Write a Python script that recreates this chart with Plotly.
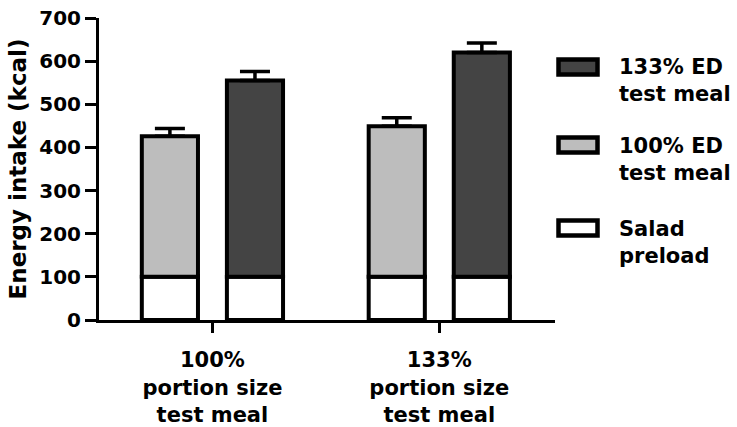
import plotly.graph_objects as go

groups = ["100%<br>portion size<br>test meal", "133%<br>portion size<br>test meal"]
salad = [100, 100]
meal_100ed = [326, 349]
meal_100ed_sem = [18, 20]
meal_133ed = [455, 520]
meal_133ed_sem = [21, 22]
legend_labels = ["133% ED<br>test meal", "100% ED<br>test meal", "Salad<br>preload"]

LIGHT = "#bdbdbd"
DARK = "#444444"
FONT = "DejaVu Sans"

W, H = 737, 427
L, R, T, B = 99, 182, 18, 107
PW, PH = W - L - R, H - T - B

fig = go.Figure()
line = dict(color="black", width=4)
fig.add_bar(x=groups, y=salad, offsetgroup="a", marker=dict(color="white", line=line), showlegend=False)
fig.add_bar(x=groups, y=salad, offsetgroup="b", marker=dict(color="white", line=line), showlegend=False)
fig.add_bar(x=groups, y=meal_100ed, base=salad, offsetgroup="a",
            marker=dict(color=LIGHT, line=line), showlegend=False,
            error_y=dict(type="data", symmetric=False, array=meal_100ed_sem, arrayminus=[0, 0],
                         color="black", thickness=3.5, width=15))
fig.add_bar(x=groups, y=meal_133ed, base=salad, offsetgroup="b",
            marker=dict(color=DARK, line=line), showlegend=False,
            error_y=dict(type="data", symmetric=False, array=meal_133ed_sem, arrayminus=[0, 0],
                         color="black", thickness=3.5, width=15))

# legend drawn manually (positions in picture pixels)
legend_fills = [DARK, LIGHT, "white"]
legend_y = [67, 145, 228]
def px_x(p):
    return (p - L) / PW
def px_y(p):
    return (T + PH - p) / PH
for fill, yc, lab in zip(legend_fills, legend_y, legend_labels):
    fig.add_shape(type="rect", xref="paper", yref="paper",
                  x0=px_x(558.5), x1=px_x(597.5), y0=px_y(yc - 7.5), y1=px_y(yc + 7.5),
                  fillcolor=fill, line=dict(color="black", width=4.5))
    fig.add_annotation(xref="paper", yref="paper", x=px_x(617), y=px_y(yc + 14),
                       xanchor="left", yanchor="middle", align="left", showarrow=False,
                       text=lab, font=dict(family=FONT, size=21, color="black", weight="bold"))

fig.update_layout(
    width=W, height=H, margin=dict(l=L, r=R, t=T, b=B),
    paper_bgcolor="white", plot_bgcolor="white",
    barmode="group", bargap=0.25, bargroupgap=0.34,
    font=dict(family=FONT, size=21, color="black", weight="bold"),
)
fig.update_xaxes(range=[-0.5, 1.51], showline=True, linecolor="black", linewidth=3,
                 ticks="outside", ticklen=10, tickwidth=3, tickcolor="black",
                 showgrid=False, zeroline=False, automargin=False, ticklabelstandoff=9,
                 ticklabeloverflow="allow",
                 tickfont=dict(family=FONT, size=21, color="black", weight="bold"))
fig.update_yaxes(range=[0, 700], dtick=100, showline=True, linecolor="black", linewidth=3,
                 ticks="outside", ticklen=11, tickwidth=3, tickcolor="black",
                 showgrid=False, zeroline=False, automargin=False, ticklabeloverflow="allow",
                 title=dict(text="Energy intake (kcal)", standoff=7,
                            font=dict(family=FONT, size=23, color="black", weight="bold")),
                 tickfont=dict(family=FONT, size=20, color="black", weight="bold"))

fig.write_html("out.html", config={"displayModeBar": False},
               post_script="document.body.style.margin='0';")
